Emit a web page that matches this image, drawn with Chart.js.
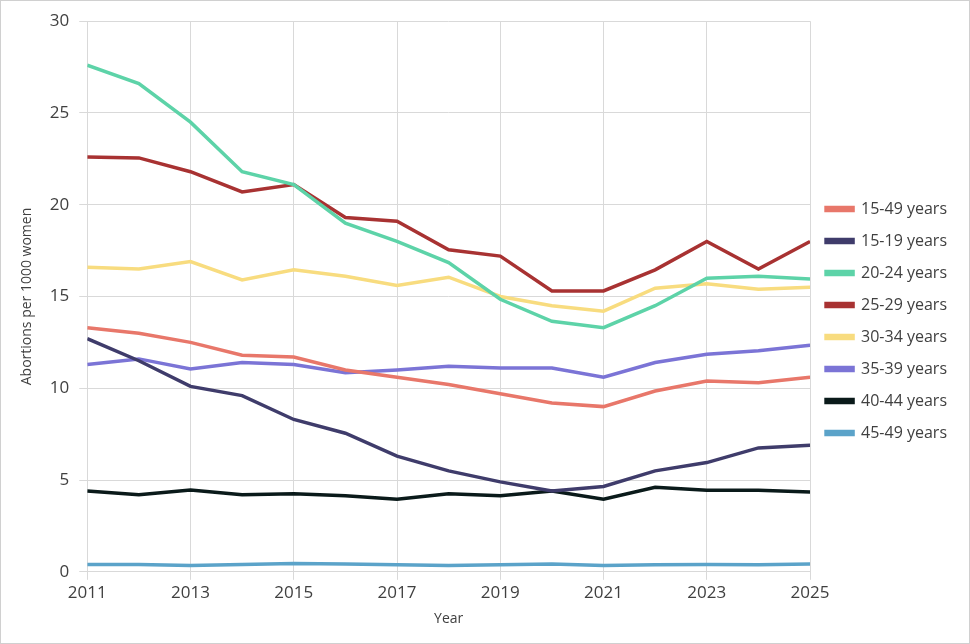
<!DOCTYPE html>
<html>
<head>
<meta charset="utf-8">
<script src="https://cdn.jsdelivr.net/npm/chart.js@4"></script>
<style>
  body { margin: 0; background: #fff; }
  #wrap { width: 968px; height: 642px; border: 1px solid #d0d0d0; }
</style>
</head>
<body>
<div id="wrap"><canvas id="chart" width="968" height="642"></canvas></div>
<script>
// Données (avortements pour 1000 femmes)
const years = [2011, 2012, 2013, 2014, 2015, 2016, 2017, 2018, 2019, 2020, 2021, 2022, 2023, 2024, 2025];
const seriesNames = ['15-49 years', '15-19 years', '20-24 years', '25-29 years', '30-34 years', '35-39 years', '40-44 years', '45-49 years'];
const seriesColors = ['#E8776A', '#3F3C6B', '#5DD3A8', '#A83232', '#F8DC7F', '#7B74D6', '#0A1A1A', '#5BA3C9'];
const y15_49 = [13.3, 13.0, 12.5, 11.8, 11.7, 11.0, 10.6, 10.2, 9.7, 9.2, 9.0, 9.85, 10.4, 10.3, 10.6];
const y15_19 = [12.7, 11.5, 10.1, 9.6, 8.3, 7.55, 6.3, 5.5, 4.9, 4.4, 4.65, 5.5, 5.95, 6.75, 6.9];
const y20_24 = [27.6, 26.6, 24.5, 21.8, 21.1, 19.0, 18.0, 16.85, 14.85, 13.65, 13.3, 14.5, 16.0, 16.1, 15.95];
const y25_29 = [22.6, 22.55, 21.8, 20.7, 21.1, 19.3, 19.1, 17.55, 17.2, 15.3, 15.3, 16.45, 18.0, 16.5, 18.0];
const y30_34 = [16.6, 16.5, 16.9, 15.9, 16.45, 16.1, 15.6, 16.05, 15.0, 14.5, 14.2, 15.45, 15.7, 15.4, 15.5];
const y35_39 = [11.3, 11.6, 11.05, 11.4, 11.3, 10.85, 11.0, 11.2, 11.1, 11.1, 10.6, 11.4, 11.85, 12.05, 12.35];
const y40_44 = [4.4, 4.2, 4.45, 4.2, 4.25, 4.15, 3.95, 4.25, 4.15, 4.4, 3.95, 4.6, 4.45, 4.45, 4.35];
const y45_49 = [0.4, 0.4, 0.35, 0.4, 0.45, 0.42, 0.38, 0.35, 0.38, 0.42, 0.35, 0.38, 0.4, 0.38, 0.42];
const allValues = [y15_49, y15_19, y20_24, y25_29, y30_34, y35_39, y40_44, y45_49];

document.addEventListener("DOMContentLoaded", () => {
    const datasets = seriesNames.map((name, i) => ({
        label: name,
        data: years.map((yr, j) => ({ x: yr, y: allValues[i][j] })),
        borderColor: seriesColors[i],
        backgroundColor: seriesColors[i],
        borderWidth: 3.5,
        pointRadius: 0,
        tension: 0
    }));

    new Chart(document.getElementById("chart"), {
        type: 'line',
        data: { datasets },
        options: {
            responsive: false,
            animation: false,
            layout: { padding: { left: 14, right: 12, top: 10, bottom: 12 } },
            plugins: {
                legend: {
                    position: 'right',
                    labels: {
                        boxWidth: 27, boxHeight: 3, padding: 16,
                        color: '#404040',
                        font: { family: 'Open Sans', size: 16 }
                    }
                },
                tooltip: { enabled: false }
            },
            scales: {
                x: {
                    type: 'linear', min: 2011, max: 2025,
                    ticks: { stepSize: 2, color: '#404040', font: { family: 'Open Sans', size: 17 }, callback: v => String(v) },
                    grid: { color: '#d9d9d9' },
                    border: { color: '#d9d9d9' },
                    title: { display: true, text: 'Year', color: '#404040', font: { family: 'Open Sans', size: 14 } }
                },
                y: {
                    min: 0, max: 30,
                    ticks: { stepSize: 5, color: '#404040', padding: 10, font: { family: 'Open Sans', size: 17 } },
                    grid: { color: '#d9d9d9' },
                    border: { display: false },
                    title: { display: true, text: 'Abortions per 1000 women', color: '#404040', font: { family: 'Open Sans', size: 14 } }
                }
            }
        }
    });
});
</script>
</body>
</html>
